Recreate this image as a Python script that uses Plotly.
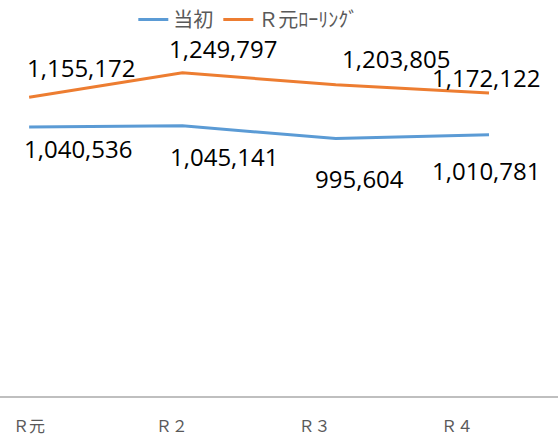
import plotly.graph_objects as go

# 年度区分
categories = ["Ｒ元", "Ｒ２", "Ｒ３", "Ｒ４"]
initial = [1040536, 1045141, 995604, 1010781]
rolling = [1155172, 1249797, 1203805, 1172122]

series_names = ["当初", "Ｒ元ﾛｰﾘﾝｸﾞ"]
colors = ["#5B9BD5", "#ED7D31"]

# data label offsets (px) - the labels were nudged by hand in the original
initial_offsets = [(49, -22), (42, -31), (24, -40), (-3, -36)]
rolling_offsets = [(52, 30), (41, 24), (60, 26), (-3, 15)]

NUM_FONT = "Open Sans, Noto Sans, sans-serif"
JP_FONT = "Noto Sans CJK JP, sans-serif"

fig = go.Figure()

for name, vals, col in zip(series_names, [initial, rolling], colors):
    fig.add_trace(go.Scatter(
        x=categories, y=vals, name=name, mode="lines",
        line=dict(color=col, width=3),
        hoverinfo="x+y",
    ))

# invisible carrier so the label axis (x2) gets its categories
fig.add_trace(go.Scatter(
    x=categories, y=initial, xaxis="x2", mode="lines",
    line=dict(color="rgba(0,0,0,0)"), showlegend=False, hoverinfo="skip",
))

for vals, offs in [(initial, initial_offsets), (rolling, rolling_offsets)]:
    for cat, v, (dx, dy) in zip(categories, vals, offs):
        fig.add_annotation(
            x=cat, y=v, text=f"{v:,}", showarrow=False,
            xshift=dx, yshift=dy,
            font=dict(family=NUM_FONT, size=24, color="#000000"),
        )

fig.update_layout(
    width=558, height=439,
    margin=dict(l=0, r=0, t=34, b=43, autoexpand=False),
    plot_bgcolor="white", paper_bgcolor="white",
    showlegend=True,
    legend=dict(
        orientation="h", x=0.445, xanchor="center", xref="container",
        y=1.0, yanchor="top", yref="container",
        font=dict(family=JP_FONT, size=20, color="#595959"),
        itemwidth=30, bgcolor="rgba(0,0,0,0)",
    ),
    xaxis=dict(
        type="category", range=[-0.19, 3.45], automargin=False,
        showgrid=False, showline=True, linecolor="#BFBFBF", linewidth=1.5,
        ticks="", showticklabels=False, fixedrange=True,
    ),
    # tick labels sit on a slightly tighter spacing than the points
    xaxis2=dict(
        type="category", range=[-0.203, 3.707], automargin=False,
        overlaying="x", anchor="y", side="bottom",
        showgrid=False, showline=False, ticks="", ticklabelstandoff=19,
        tickfont=dict(family=JP_FONT, size=16, color="#595959"),
        fixedrange=True,
    ),
    yaxis=dict(
        range=[0, 1400000], visible=False, showgrid=False, fixedrange=True,
        automargin=False,
    ),
)

# the page's default body margin would push the chart 8px off
fig.write_html("out.html", config={"displayModeBar": False},
               post_script="document.body.style.margin='0';")
